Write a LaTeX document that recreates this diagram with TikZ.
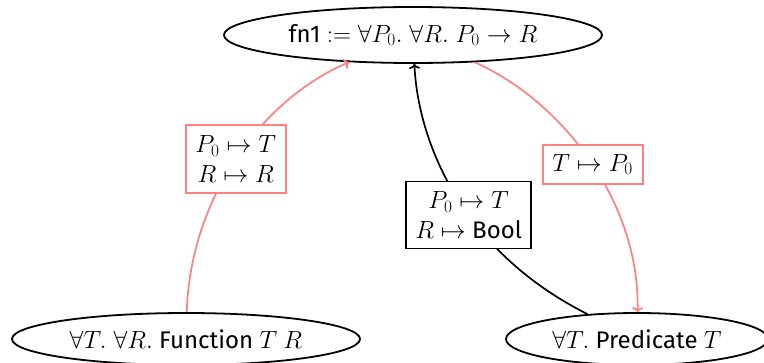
\documentclass[tikz,border=0pt]{standalone}
\usepackage{fontspec}
\setmainfont{Fira Sans}
\usetikzlibrary{shapes.geometric,arrows.meta}
\definecolor{edgered}{RGB}{255,128,128}
\begin{document}
\begin{tikzpicture}[x=1pt,y=-1pt, font=\fontsize{24}{30}\selectfont,
  typenode/.style={draw, ellipse, line width=1.8pt, inner sep=0pt},
  subst/.style={draw, fill=white, text=black, align=center, line width=1.8pt, inner sep=0pt},
  tip/.style={-{To[length=5pt,width=11pt]}},
  redge/.style={draw=edgered, line width=1.7pt, tip},
  bedge/.style={draw=black, line width=1.7pt, tip}]
\useasboundingbox (0,0) rectangle (764,362);
\node[typenode, minimum width=378pt, minimum height=56pt] (fn) at (413,35)
  {fn1 $:= \forall P_0.\; \forall R.\; P_0 \to R$};
\node[typenode, minimum width=348pt, minimum height=52pt] (fun) at (186,339)
  {$\forall T.\; \forall R.$ Function $T$ $R$};
\node[typenode, minimum width=262pt, minimum height=52pt] (pred) at (637,339)
  {$\forall T.$ Predicate $T$};
\draw[redge] (fun) .. controls (190,200) and (260,100) ..
  node[subst, draw=edgered, minimum width=100pt, minimum height=68pt, pos=0.5] (s1)
  {$P_0 \mapsto T$\\$R \mapsto R$} (fn);
\draw[bedge] (pred) .. controls (460,250) and (418,140) ..
  node[subst, draw=black, minimum width=125pt, minimum height=67pt, pos=0.42] (s2)
  {$P_0 \mapsto T$\\$R \mapsto$ Bool} (fn);
\draw[redge] (fn) .. controls (560,100) and (640,200) ..
  node[subst, draw=edgered, minimum width=100pt, minimum height=39pt, pos=0.52] (s3)
  {$T \mapsto P_0$} (pred);
\end{tikzpicture}
\end{document}
